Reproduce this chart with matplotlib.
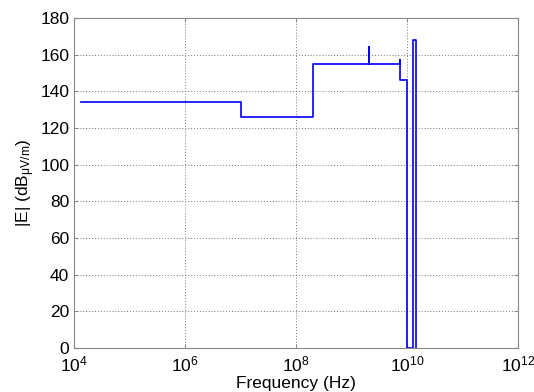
import matplotlib as mpl
import matplotlib.pyplot as plt
import numpy as np

mpl.rcParams['font.family'] = ['Liberation Sans', 'DejaVu Sans']
mpl.rcParams['mathtext.fontset'] = 'custom'
mpl.rcParams['mathtext.rm'] = 'Liberation Sans'
mpl.rcParams['mathtext.it'] = 'Liberation Sans:italic'

# step curve of the field strength
freq = [1.34e4, 1.0e7, 1.0e7, 2.05e8, 2.05e8, 2.1e9, 2.1e9, 2.1e9,
        7.5e9, 7.5e9, 7.5e9, 9.9e9, 9.9e9, 1.3e10, 1.3e10, 1.48e10, 1.48e10]
field = [134, 134, 126, 126, 155, 155, 164, 155,
         155, 157, 146, 146, 0, 0, 168, 168, 0]

fig = plt.figure(figsize=(5.34, 3.92), dpi=100)
ax = fig.add_axes([0.1386, 0.1122, 0.8314, 0.8418])

ax.plot(freq, field, color='#0000ff', lw=1.2)

ax.set_xscale('log')
ax.set_xlim(1e4, 1e12)
ax.set_ylim(0, 180)
ax.set_xticks([1e4, 1e6, 1e8, 1e10, 1e12])
ax.xaxis.set_minor_locator(mpl.ticker.NullLocator())
ax.set_yticks(np.arange(0, 181, 20))

ax.grid(True, linestyle=(0, (1, 2)), color='#777777', lw=0.7)
for s in ax.spines.values():
    s.set_color('#888888')
ax.tick_params(direction='in', length=3, colors='#888888', labelcolor='black',
               labelsize=12.5, top=True, right=True)
ax.tick_params(axis='x', pad=5)

ax.set_xlabel('Frequency (Hz)', fontsize=12.5, labelpad=1)
ax.set_ylabel(r'|E| (dB$_{\mathrm{\mu V/m}}$)', fontsize=12.5, labelpad=2)

plt.savefig('out.png', dpi=100)
